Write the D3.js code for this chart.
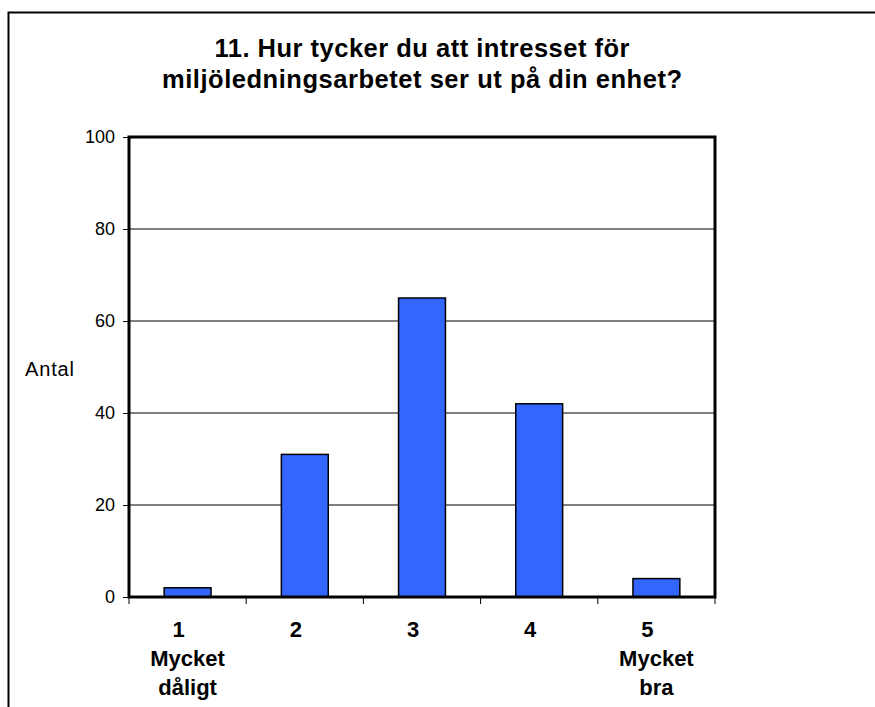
<!DOCTYPE html>
<html>
<head>
<meta charset="utf-8">
<script src="https://cdn.jsdelivr.net/npm/d3@7"></script>
<style>
  body { margin: 0; background: #fff; }
  svg { display: block; font-family: Arial, "Liberation Sans", sans-serif; }
</style>
</head>
<body>
<svg id="chart" width="875" height="707"></svg>
<script>
const categories = ["1", "2", "3", "4", "5"];
const subLabels = [["Mycket", "dåligt"], [], [], [], ["Mycket", "bra"]];
const counts = [2, 31, 65, 42, 4];
const yTicks = [0, 20, 40, 60, 80, 100];
const titleLines = ["11. Hur tycker du att intresset för", "miljöledningsarbetet ser ut på din enhet?"];
const yLabel = "Antal";

const svg = d3.select("#chart");

// outer frame (runs off the bottom/right edge)
svg.append("rect")
  .attr("x", 8.5).attr("y", 12.5)
  .attr("width", 900).attr("height", 750)
  .attr("fill", "none").attr("stroke", "#000").attr("stroke-width", 2);

const margin = { top: 137, right: 160, bottom: 110, left: 129 },
      width = 875 - margin.left - margin.right,
      height = 707 - margin.top - margin.bottom;

const g = svg.append("g").attr("transform", `translate(${margin.left},${margin.top})`);

const x = d3.scaleBand().domain(categories).range([0, width]).paddingInner(0);
const y = d3.scaleLinear().domain([0, 100]).range([height, 0]);

// gridlines
g.selectAll("line.grid")
  .data(yTicks.filter(d => d > 0 && d < 100))
  .enter().append("line")
  .attr("class", "grid")
  .attr("x1", 0).attr("x2", width)
  .attr("y1", d => y(d)).attr("y2", d => y(d))
  .attr("stroke", "#000").attr("stroke-width", 1);

// bars
const barW = x.bandwidth() * 0.4;
g.selectAll("rect.bar")
  .data(counts)
  .enter().append("rect")
  .attr("class", "bar")
  .attr("x", (d, i) => x(categories[i]) + (x.bandwidth() - barW) / 2)
  .attr("y", d => y(d))
  .attr("width", barW)
  .attr("height", d => y(0) - y(d))
  .attr("fill", "#3366ff")
  .attr("stroke", "#000").attr("stroke-width", 1.5);

// y axis
const yAxis = g.append("g")
  .call(d3.axisLeft(y).tickValues(yTicks).tickSize(6).tickPadding(8));
yAxis.select(".domain").remove();
yAxis.selectAll("text").attr("font-size", 18).attr("font-family", "Arial, 'Liberation Sans', sans-serif").attr("fill", "#000");
yAxis.selectAll("line").attr("stroke", "#000");

// x axis ticks at band edges
const edges = categories.map(c => x(c)).concat([width]);
g.selectAll("line.xtick")
  .data(edges)
  .enter().append("line")
  .attr("class", "xtick")
  .attr("x1", d => d).attr("x2", d => d)
  .attr("y1", height).attr("y2", height + 7)
  .attr("stroke", "#000").attr("stroke-width", 1);

// plot frame
g.append("rect")
  .attr("x", 0).attr("y", 0)
  .attr("width", width).attr("height", height)
  .attr("fill", "none").attr("stroke", "#000").attr("stroke-width", 3);

// x labels
const xl = g.selectAll("text.xlab")
  .data(categories)
  .enter().append("text")
  .attr("class", "xlab")
  .attr("text-anchor", "middle")
  .attr("font-weight", "bold")
  .attr("font-size", 22)
  .attr("y", height + 40);
xl.each(function(d, i) {
  const t = d3.select(this);
  const cx = x(d) + x.bandwidth() / 2;
  t.append("tspan").attr("x", cx - 9).attr("dy", 0).text(d);
  subLabels[i].forEach(s => {
    t.append("tspan").attr("x", cx).attr("dy", 29).text(s);
  });
});

// y label
svg.append("text")
  .attr("x", 25).attr("y", 376)
  .attr("font-size", 20)
  .attr("textLength", 49)
  .text(yLabel);

// title
const titleWidths = [415, 520];
svg.selectAll("text.title")
  .data(titleLines)
  .enter().append("text")
  .attr("class", "title")
  .attr("text-anchor", "middle")
  .attr("font-weight", "bold")
  .attr("font-size", 25.5)
  .attr("x", margin.left + width / 2)
  .attr("y", (d, i) => 57 + i * 31)
  .attr("textLength", (d, i) => titleWidths[i])
  .text(d => d);
</script>
</body>
</html>
